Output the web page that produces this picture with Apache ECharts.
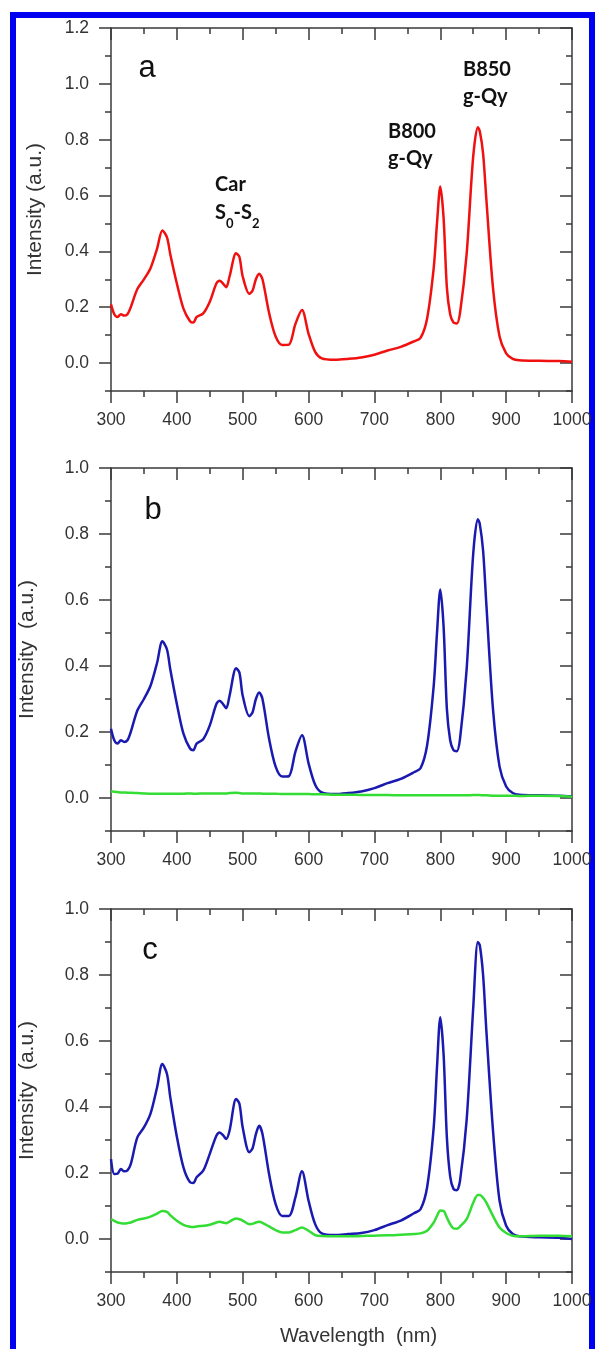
<!DOCTYPE html>
<html>
<head>
<meta charset="utf-8">
<script src="https://cdn.jsdelivr.net/npm/echarts@6/dist/echarts.min.js"></script>
<style>
  html, body { margin: 0; padding: 0; background: #fff; }
  #chart { width: 596px; height: 1349px; }
</style>
</head>
<body>
<div id="chart"></div>
<script>
// wavelength grid (nm), shared by every curve
var wavelengths = [300,305,310,315,320,325,330,340,350,360,370,378,385,390,400,410,420,425,430,440,450,460,465,470,475,480,490,495,500,510,515,520,525,530,540,550,560,570,580,590,600,610,620,640,660,680,700,720,740,760,770,780,790,795,800,805,810,815,820,825,830,840,850,857,860,865,870,880,890,900,910,920,950,980,1000];

// panel a, red
var aRed = [0.21,0.175,0.165,0.175,0.17,0.175,0.2,0.265,0.3,0.34,0.41,0.475,0.45,0.39,0.285,0.195,0.15,0.145,0.165,0.178,0.22,0.285,0.295,0.285,0.272,0.31,0.393,0.38,0.31,0.248,0.26,0.3,0.32,0.3,0.18,0.095,0.065,0.066,0.14,0.19,0.105,0.04,0.017,0.012,0.015,0.02,0.03,0.045,0.058,0.078,0.09,0.16,0.34,0.5,0.632,0.52,0.27,0.175,0.145,0.142,0.18,0.39,0.74,0.845,0.83,0.75,0.585,0.27,0.095,0.035,0.015,0.01,0.008,0.007,0.005];

// panel b, blue and green
var bBlue = [0.21,0.175,0.165,0.175,0.17,0.175,0.2,0.265,0.3,0.34,0.41,0.475,0.45,0.39,0.285,0.195,0.15,0.145,0.165,0.178,0.22,0.285,0.295,0.285,0.272,0.31,0.393,0.38,0.31,0.248,0.26,0.3,0.32,0.3,0.18,0.095,0.065,0.066,0.14,0.19,0.105,0.04,0.017,0.012,0.015,0.02,0.03,0.045,0.058,0.078,0.09,0.16,0.34,0.5,0.632,0.52,0.27,0.175,0.145,0.142,0.18,0.39,0.74,0.845,0.83,0.75,0.585,0.27,0.095,0.035,0.015,0.01,0.008,0.007,0.005];
var bGreen = [0.02,0.019,0.018,0.017,0.017,0.016,0.016,0.015,0.014,0.013,0.013,0.013,0.013,0.013,0.013,0.013,0.014,0.013,0.013,0.014,0.014,0.014,0.014,0.014,0.014,0.015,0.016,0.015,0.014,0.014,0.014,0.014,0.014,0.013,0.013,0.013,0.012,0.012,0.012,0.012,0.012,0.011,0.011,0.01,0.01,0.009,0.009,0.009,0.008,0.008,0.008,0.008,0.008,0.008,0.008,0.008,0.008,0.008,0.008,0.008,0.008,0.008,0.009,0.009,0.009,0.008,0.008,0.007,0.007,0.007,0.007,0.006,0.007,0.006,0.004];

// panel c, blue and green
var cBlue = [0.242,0.197,0.198,0.212,0.205,0.208,0.227,0.308,0.338,0.38,0.46,0.53,0.5,0.43,0.31,0.217,0.172,0.17,0.187,0.207,0.258,0.313,0.323,0.315,0.303,0.328,0.424,0.41,0.338,0.263,0.275,0.318,0.343,0.318,0.197,0.106,0.07,0.07,0.126,0.205,0.116,0.045,0.017,0.012,0.015,0.018,0.027,0.042,0.056,0.078,0.09,0.157,0.338,0.52,0.672,0.56,0.308,0.19,0.152,0.148,0.177,0.36,0.7,0.9,0.89,0.8,0.63,0.33,0.116,0.04,0.015,0.008,0.005,0.004,0.0];
var cGreen = [0.06,0.055,0.05,0.048,0.047,0.048,0.05,0.058,0.062,0.068,0.077,0.085,0.082,0.072,0.055,0.043,0.037,0.036,0.038,0.04,0.043,0.05,0.052,0.05,0.048,0.053,0.062,0.06,0.056,0.045,0.046,0.05,0.052,0.049,0.038,0.027,0.02,0.02,0.027,0.035,0.025,0.012,0.009,0.008,0.008,0.009,0.01,0.011,0.013,0.015,0.017,0.025,0.05,0.07,0.086,0.085,0.065,0.045,0.032,0.031,0.038,0.06,0.11,0.133,0.133,0.125,0.11,0.07,0.035,0.018,0.01,0.008,0.01,0.01,0.008];

// tick labels
var xTicks = [300,400,500,600,700,800,900,1000];
var yTicksA = [0,0.2,0.4,0.6,0.8,1.0,1.2];
var yTicksBC = [0,0.2,0.4,0.6,0.8,1.0];

var chart = echarts.init(document.getElementById('chart'));

var FONT = 'Liberation Sans';
var AX = {color: '#3a3a3a', width: 1.5};
var tops = [28, 468, 909];
var ymaxs = [1.2, 1.0, 1.0];

function pairs(ys) {
    return wavelengths.map(function (w, i) { return [w, ys[i]]; });
}

var grids = [], xAxes = [], yAxes = [];
for (var p = 0; p < 3; p++) {
    grids.push({left: 111, top: tops[p], width: 461, height: 363});
    var yt = p === 0 ? yTicksA : yTicksBC;
    // bottom axis
    xAxes.push({
        gridIndex: p, type: 'value', position: 'bottom',
        min: xTicks[0], max: xTicks[xTicks.length - 1], interval: 100,
        axisLine: {show: true, onZero: false, lineStyle: AX},
        axisTick: {show: true, inside: false, length: 12, lineStyle: AX},
        minorTick: {show: true, splitNumber: 2, length: 6, lineStyle: AX},
        axisLabel: {fontSize: 17.5, margin: 20, color: '#333', fontFamily: FONT,
            formatter: function (v) { return String(v); }},
        splitLine: {show: false},
        name: p === 2 ? 'Wavelength  (nm)' : '',
        nameLocation: 'middle', nameGap: 54,
        nameTextStyle: {fontSize: 20, color: '#333', fontFamily: FONT, padding: [0, 0, 0, 34]}
    });
    // top mirror
    xAxes.push({
        gridIndex: p, type: 'value', position: 'top',
        min: xTicks[0], max: xTicks[xTicks.length - 1], interval: 100,
        axisLine: {show: true, onZero: false, lineStyle: AX},
        axisTick: {show: true, inside: true, length: 12, lineStyle: AX},
        minorTick: {show: true, splitNumber: 2, length: 6, lineStyle: AX},
        axisLabel: {show: false}, splitLine: {show: false}
    });
    // left minor ticks
    yAxes.push({
        gridIndex: p, type: 'value', position: 'left',
        min: -0.1, max: ymaxs[p], interval: 0.1,
        axisLine: {show: true, onZero: false, lineStyle: AX},
        axisTick: {show: true, inside: false, length: 6, lineStyle: AX},
        axisLabel: {show: false}, splitLine: {show: false}
    });
    // left major ticks + labels
    yAxes.push({
        gridIndex: p, type: 'value', position: 'left',
        min: -0.1, max: ymaxs[p],
        axisLine: {show: false, onZero: false},
        axisTick: {show: true, inside: false, length: 12, lineStyle: AX, customValues: yt},
        axisLabel: {fontSize: 17.5, margin: 22, color: '#333', fontFamily: FONT, customValues: yt,
            formatter: function (v) { return v.toFixed(1); }},
        splitLine: {show: false},
        name: p === 0 ? 'Intensity (a.u.)' : 'Intensity  (a.u.)',
        nameLocation: 'middle', nameGap: p === 0 ? 65 : 73,
        nameTextStyle: {fontSize: 21, color: '#333', fontFamily: FONT}
    });
    // right minor ticks
    yAxes.push({
        gridIndex: p, type: 'value', position: 'right',
        min: -0.1, max: ymaxs[p], interval: 0.1,
        axisLine: {show: true, onZero: false, lineStyle: AX},
        axisTick: {show: true, inside: true, length: 6, lineStyle: AX},
        axisLabel: {show: false}, splitLine: {show: false}
    });
    // right major ticks
    yAxes.push({
        gridIndex: p, type: 'value', position: 'right',
        min: -0.1, max: ymaxs[p],
        axisLine: {show: false, onZero: false},
        axisTick: {show: true, inside: true, length: 12, lineStyle: AX, customValues: yt},
        axisLabel: {show: false}, splitLine: {show: false}
    });
}

function line(p, ys, color) {
    return {
        type: 'line', xAxisIndex: 2 * p, yAxisIndex: 4 * p,
        data: pairs(ys), showSymbol: false, smooth: 0.3,
        lineStyle: {color: color, width: 2.5}, silent: true
    };
}

var RED = '#f01010', BLUE = '#1a1ab0', GREEN = '#33dd33';

var boldTxt = {fontFamily: 'Lato', fontWeight: 'bold', fontSize: 20, fill: '#111', align: 'left', verticalAlign: 'top'};
function label(x, y, text) {
    return {type: 'text', x: x, y: y, style: Object.assign({text: text}, boldTxt)};
}
function letter(x, y, t) {
    return {type: 'text', x: x, y: y, style: {text: t, fontFamily: FONT, fontSize: 31, fill: '#111', align: 'center', verticalAlign: 'middle'}};
}

var option = {
    animation: false,
    backgroundColor: '#fff',
    grid: grids,
    xAxis: xAxes,
    yAxis: yAxes,
    series: [
        line(0, aRed, RED),
        line(1, bBlue, BLUE),
        line(1, bGreen, GREEN),
        line(2, cBlue, BLUE),
        line(2, cGreen, GREEN)
    ],
    graphic: [
        {type: 'rect', shape: {x: 13, y: 15, width: 579, height: 1350},
            style: {fill: 'none', stroke: '#0000f0', lineWidth: 6}, silent: true},
        letter(147, 68, 'a'),
        letter(153, 510, 'b'),
        letter(150, 950, 'c'),
        label(215, 175, 'Car'),
        {type: 'text', x: 215, y: 203, style: {
            text: '{m|S}{s|0}{m|-S}{s|2}', align: 'left', verticalAlign: 'top',
            rich: {
                m: {fontFamily: 'Lato', fontWeight: 'bold', fontSize: 20, fill: '#111', lineHeight: 27, verticalAlign: 'top'},
                s: {fontFamily: 'Lato', fontWeight: 'bold', fontSize: 13, fill: '#111', lineHeight: 27, verticalAlign: 'bottom'}
            }}},
        label(388, 122, 'B800'),
        label(388, 149, 'g-Qy'),
        label(463, 60, 'B850'),
        label(463, 87, 'g-Qy')
    ]
};

chart.setOption(option);
</script>
</body>
</html>
